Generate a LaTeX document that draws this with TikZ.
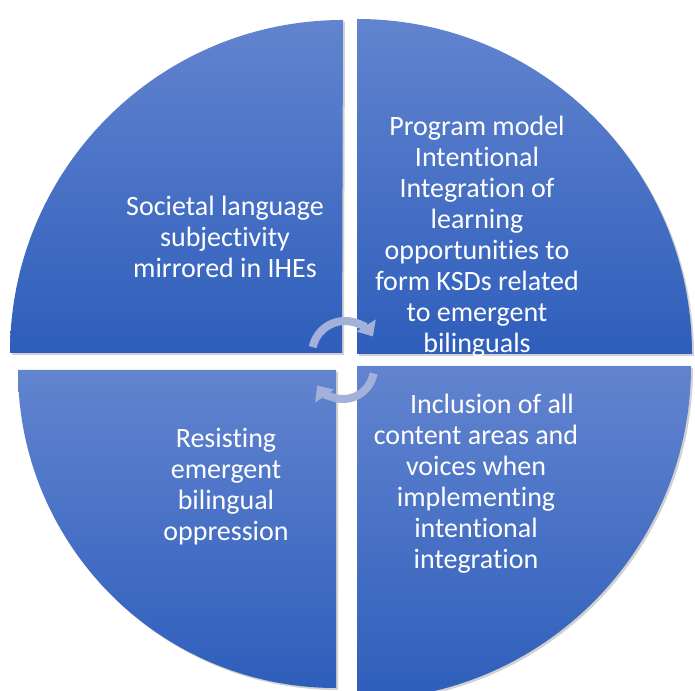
\documentclass[tikz,border=0pt]{standalone}
\usepackage{fontspec}
\setmainfont{Carlito}[Ligatures=NoCommon]
\usetikzlibrary{arrows.meta,shadows}
\definecolor{segTop}{HTML}{6284CF}
\definecolor{segBot}{HTML}{2E5EBB}
\definecolor{cycBlue}{HTML}{A2B0DA}

\begin{document}
\begin{tikzpicture}[x=1pt, y=1pt,
  seg/.style={top color=segTop, bottom color=segBot, draw=none,
    drop shadow={shadow xshift=2pt, shadow yshift=-2pt, opacity=0.3, fill=black!60}},
  txt/.style={text=white, align=center, font=\fontsize{28}{31}\selectfont},
  cyc/.style={-{Triangle[width=22pt, length=13pt]}, line width=8pt, cycBlue}]
\useasboundingbox (0,0) rectangle (695,690);
% four quarters of the circle
\path[seg] (342,337) -- ++(-332,0) arc[start angle=180, end angle=90, radius=333] -- cycle;
\path[seg] (357,336) -- ++(0,335) arc[start angle=90, end angle=0, radius=335] -- cycle;
\path[seg] (336,320) -- ++(0,-318) arc[start angle=270, end angle=180, radius=318] -- cycle;
\path[seg] (357,324) -- ++(334,0) arc[start angle=0, end angle=-90, radius=334] -- cycle;
% texts
\node[txt] (soc) at (225,453) {Societal language\\subjectivity\\mirrored in IHEs};
\node[txt] (prog) at (477,453) {Program model\\Intentional\\Integration of\\learning\\opportunities to\\form KSDs related\\to emergent\\bilinguals};
\node[txt] (res) at (226,203) {Resisting\\emergent\\bilingual\\oppression};
\node[txt] (incl) at (476,206) {\hspace*{32pt}Inclusion of all\\content areas and\\voices when\\implementing\\intentional\\integration};
% cycle arrows
\coordinate (cu) at (345,336);
\coordinate (cd) at (343,322);
\draw[cyc] ([shift={(168:33)}]cu) arc[start angle=168, end angle=32, radius=33];
\draw[cyc] ([shift={(-10:31)}]cd) arc[start angle=-10, end angle=-146, radius=31];
\end{tikzpicture}
\end{document}
